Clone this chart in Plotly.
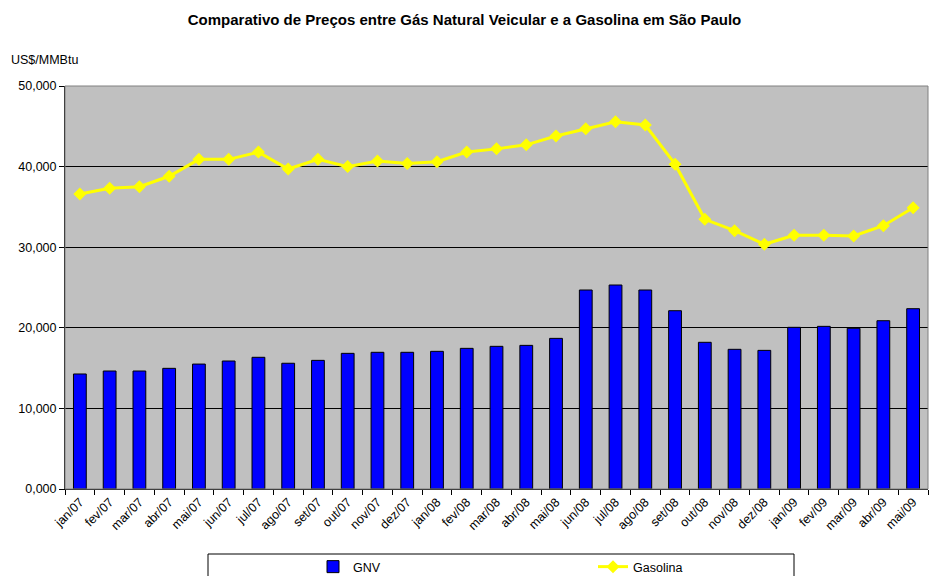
import plotly.graph_objects as go

categories = ["jan/07", "fev/07", "mar/07", "abr/07", "mai/07", "jun/07", "jul/07", "ago/07",
              "set/07", "out/07", "nov/07", "dez/07", "jan/08", "fev/08", "mar/08", "abr/08",
              "mai/08", "jun/08", "jul/08", "ago/08", "set/08", "out/08", "nov/08", "dez/08",
              "jan/09", "fev/09", "mar/09", "abr/09", "mai/09"]

gnv = [14270, 14640, 14640, 14970, 15500, 15880, 16340, 15600, 15960, 16830, 16960, 16960,
       17080, 17450, 17700, 17820, 18690, 24690, 25310, 24690, 22120, 18200, 17330, 17200,
       20060, 20180, 19940, 20880, 22370]

gasolina = [36600, 37300, 37500, 38800, 40900, 40900, 41800, 39700, 40900, 40000, 40700, 40400,
            40600, 41800, 42200, 42700, 43800, 44700, 45570, 45160, 40300, 33460, 32050, 30360,
            31480, 31480, 31390, 32670, 34900]

y_tickvals = [0, 10000, 20000, 30000, 40000, 50000]
y_ticktext = ["0,000", "10,000", "20,000", "30,000", "40,000", "50,000"]

FONT = "Arial, 'Liberation Sans', sans-serif"
FS = 12.5

fig = go.Figure()
fig.add_trace(go.Bar(
    x=categories, y=gnv, name="GNV",
    marker=dict(color="#0000FF", line=dict(color="#000000", width=1)),
    width=0.43,
))
fig.add_trace(go.Scatter(
    x=categories, y=gasolina, name="Gasolina", mode="lines+markers",
    line=dict(color="#FFFF00", width=3),
    marker=dict(symbol="diamond", size=10, color="#FFFF00"),
))

fig.update_layout(
    width=929, height=576,
    margin=dict(l=65, r=1, t=86, b=87),
    paper_bgcolor="white",
    plot_bgcolor="#C0C0C0",
    font=dict(family=FONT, size=FS, color="black"),
    title=dict(
        text="<b>Comparativo de Preços entre Gás Natural Veicular e a Gasolina em São Paulo</b>",
        x=0.5, xanchor="center", y=1 - 20 / 576, yanchor="middle", yref="container",
        font=dict(family=FONT, size=15, color="black"),
    ),
    showlegend=True,
    legend=dict(
        orientation="h", x=(313 - 65) / 863, xanchor="left",
        yref="container", y=(576 - 552) / 576, yanchor="top",
        bgcolor="rgba(0,0,0,0)", borderwidth=0,
        entrywidth=235, entrywidthmode="pixels",
        font=dict(family=FONT, size=FS, color="black"),
    ),
    xaxis=dict(
        type="category", tickangle=-45, showgrid=False,
        range=[-0.5, len(categories) - 0.5], automargin=False,
        showline=True, linecolor="black", linewidth=1,
        ticks="outside", tickson="boundaries", ticklen=5, tickcolor="black",
        tickfont=dict(family=FONT, size=FS),
    ),
    yaxis=dict(
        range=[0, 50000], tickvals=y_tickvals, ticktext=y_ticktext, automargin=False,
        showgrid=True, gridcolor="black", gridwidth=1, zeroline=False,
        showline=True, linecolor="black", linewidth=1,
        ticks="outside", ticklen=5, tickcolor="black",
        tickfont=dict(family=FONT, size=FS),
    ),
    shapes=[
        dict(type="rect", xref="paper", yref="paper", x0=0, x1=1, y0=0, y1=1,
             line=dict(color="#808080", width=1), layer="above"),
        dict(type="rect", xref="paper", yref="paper",
             x0=(208 - 65) / 863, x1=(794 - 65) / 863,
             y0=(489 - 554) / 403, y1=(489 - 590) / 403,
             line=dict(color="black", width=1)),
    ],
    annotations=[
        dict(text="US$/MMBtu", xref="paper", yref="paper",
             x=(9 - 65) / 863, y=(489 - 60) / 403, xanchor="left", yanchor="middle",
             showarrow=False, font=dict(family=FONT, size=FS, color="black")),
    ],
)

fig.write_html("out.html", config={"displayModeBar": False},
               post_script="document.body.style.margin='0px';")
